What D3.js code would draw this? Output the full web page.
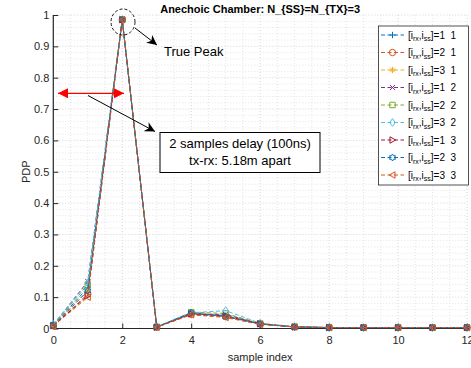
<!DOCTYPE html>
<html><head><meta charset="utf-8">
<script src="https://cdn.jsdelivr.net/npm/d3@7"></script>
<style>body{margin:0;background:#fff}svg{display:block;font-family:"Liberation Sans",Arial,sans-serif}</style>
</head><body><svg id="c" width="471" height="368"></svg>
<script>
const sampleIndex = [0,1,2,3,4,5,6,7,8,9,10,11,12];
const s11 = [0.010,0.130,0.985,0.005,0.048,0.040,0.015,0.005,0.003,0.003,0.003,0.003,0.003];
const s21 = [0.008,0.110,0.985,0.004,0.045,0.038,0.014,0.005,0.003,0.003,0.003,0.003,0.003];
const s31 = [0.010,0.120,0.987,0.005,0.050,0.042,0.016,0.005,0.003,0.003,0.003,0.003,0.003];
const s12 = [0.012,0.150,0.985,0.005,0.046,0.045,0.015,0.005,0.003,0.003,0.003,0.003,0.003];
const s22 = [0.011,0.140,0.985,0.005,0.052,0.048,0.016,0.005,0.003,0.003,0.003,0.003,0.003];
const s32 = [0.013,0.145,0.983,0.006,0.050,0.057,0.017,0.006,0.003,0.003,0.003,0.003,0.003];
const s13 = [0.009,0.105,0.985,0.004,0.047,0.040,0.015,0.005,0.003,0.003,0.003,0.003,0.003];
const s23 = [0.010,0.120,0.985,0.005,0.050,0.038,0.014,0.005,0.003,0.003,0.003,0.003,0.003];
const s33 = [0.008,0.100,0.985,0.004,0.044,0.035,0.013,0.005,0.003,0.003,0.003,0.003,0.003];
const seriesValues = [s11,s21,s31,s12,s22,s32,s13,s23,s33];
const legendRx = ["1","2","3","1","2","3","1","2","3"];
const legendSs = ["1","1","1","2","2","2","3","3","3"];
const colors = ["#0072BD","#D95319","#EDB120","#7E2F8E","#77AC30","#4DBEEE","#A2142F","#0072BD","#D95319"];
const markers = ["plus","circle","star","x","square","diamond","tright","hex","tleft"];
const xTicks = [0,2,4,6,8,10,12];
const yTicks = [0,0.1,0.2,0.3,0.4,0.5,0.6,0.7,0.8,0.9,1];
const yTickLabels = ["0","0.1","0.2","0.3","0.4","0.5","0.6","0.7","0.8","0.9","1"];

const svg = d3.select("#c");
const L=53.3, R=467, T=15, B=328.5;
const x = d3.scaleLinear().domain([0,12]).range([L,R]);
const y = d3.scaleLinear().domain([0,1]).range([B,T]);

// grid
const g = svg.append("g");
d3.range(0,12.01,0.5).forEach(v=>{
  const major = Math.abs(v%2)<1e-9;
  g.append("line").attr("x1",x(v)).attr("x2",x(v)).attr("y1",T).attr("y2",B)
   .attr("stroke",major?"#d4d4d4":"#e4e4e4").attr("stroke-width",1).attr("stroke-dasharray","1,2");
});
d3.range(0,1.001,0.02).forEach(v=>{
  const major = Math.abs(Math.round(v*50)%5)===0;
  g.append("line").attr("x1",L).attr("x2",R).attr("y1",y(v)).attr("y2",y(v))
   .attr("stroke",major?"#d4d4d4":"#e4e4e4").attr("stroke-width",1).attr("stroke-dasharray","1,2");
});

// axes
const ax = svg.append("g").attr("transform",`translate(0,${B})`)
  .call(d3.axisBottom(x).tickValues(xTicks).tickSize(-5).tickPadding(8).tickFormat(d3.format("d")));
const ay = svg.append("g").attr("transform",`translate(${L},0)`)
  .call(d3.axisLeft(y).tickValues(yTicks).tickSize(-5).tickPadding(4).tickFormat((d,i)=>yTickLabels[i]));
[ax,ay].forEach(a=>{
  a.select(".domain").attr("stroke","#262626").attr("stroke-width",1.2);
  a.selectAll(".tick line").attr("stroke","#262626");
  a.selectAll("text").attr("fill","#262626").attr("font-size",11).attr("font-family","Liberation Sans, Arial, sans-serif");
});
ax.select(".domain").attr("d",`M${L},0H${R}`);
ay.select(".domain").attr("d",`M0,${B}V${T}`);

function markerPath(type){
  const p = d3.path();
  const r=3.2;
  switch(type){
    case "plus": p.moveTo(-r,0);p.lineTo(r,0);p.moveTo(0,-r);p.lineTo(0,r);break;
    case "circle": p.moveTo(r,0);p.arc(0,0,r,0,2*Math.PI);break;
    case "star": p.moveTo(-r,0);p.lineTo(r,0);p.moveTo(0,-r);p.lineTo(0,r);
      p.moveTo(-r*0.7,-r*0.7);p.lineTo(r*0.7,r*0.7);p.moveTo(-r*0.7,r*0.7);p.lineTo(r*0.7,-r*0.7);break;
    case "x": p.moveTo(-r*0.8,-r*0.8);p.lineTo(r*0.8,r*0.8);p.moveTo(-r*0.8,r*0.8);p.lineTo(r*0.8,-r*0.8);break;
    case "square": p.rect(-r*0.85,-r*0.85,r*1.7,r*1.7);break;
    case "diamond": p.moveTo(0,-r*1.2);p.lineTo(r*0.9,0);p.lineTo(0,r*1.2);p.lineTo(-r*0.9,0);p.closePath();break;
    case "tright": p.moveTo(r,0);p.lineTo(-r*0.8,-r);p.lineTo(-r*0.8,r);p.closePath();break;
    case "tleft": p.moveTo(-r,0);p.lineTo(r*0.8,-r);p.lineTo(r*0.8,r);p.closePath();break;
    case "hex": {
      const ro=r*1.1, ri=ro*0.58;
      for(let k=0;k<12;k++){const a=-Math.PI/2+k*Math.PI/6;const rr=k%2?ri:ro;
        const px=rr*Math.cos(a),py=rr*Math.sin(a); if(k===0)p.moveTo(px,py);else p.lineTo(px,py);}
      p.closePath();break;}
  }
  return p.toString();
}

const line = d3.line().x((d,i)=>x(sampleIndex[i])).y(d=>y(d));
seriesValues.forEach((vals,si)=>{
  const sg = svg.append("g");
  sg.append("path").attr("d",line(vals)).attr("fill","none").attr("stroke",colors[si])
    .attr("stroke-width",1).attr("stroke-dasharray","4,2.5");
  sg.selectAll("path.m").data(vals).enter().append("path").attr("class","m")
    .attr("transform",(d,i)=>`translate(${x(sampleIndex[i])},${y(d)})`)
    .attr("d",markerPath(markers[si])).attr("fill","none").attr("stroke",colors[si]).attr("stroke-width",1);
});

// title and labels
svg.append("text").attr("x",(L+R)/2).attr("y",13).attr("text-anchor","middle")
  .attr("font-size",11).attr("font-weight","bold").attr("fill","#000").text("Anechoic Chamber: N_{SS}=N_{TX}=3");
svg.append("text").attr("x",(L+R)/2).attr("y",361).attr("text-anchor","middle")
  .attr("font-size",11).attr("fill","#262626").text("sample index");
svg.append("text").attr("transform",`translate(30,${(T+B)/2}) rotate(-90)`).attr("text-anchor","middle")
  .attr("font-size",11).attr("fill","#262626").text("PDP");

// annotations
const defs = svg.append("defs");
defs.append("marker").attr("id","ah").attr("viewBox","0 0 10 10").attr("refX",10).attr("refY",5)
  .attr("markerWidth",10).attr("markerHeight",10).attr("markerUnits","userSpaceOnUse").attr("orient","auto")
  .append("path").attr("d","M0,0L10,5L0,10L3,5Z").attr("fill","#000");
defs.append("marker").attr("id","ahr").attr("viewBox","0 0 10 10").attr("refX",10).attr("refY",5)
  .attr("markerWidth",14).attr("markerHeight",10).attr("markerUnits","userSpaceOnUse").attr("orient","auto-start-reverse")
  .append("path").attr("d","M0,0L10,5L0,10Z").attr("fill","#ff0000");

svg.append("ellipse").attr("cx",123).attr("cy",22).attr("rx",12).attr("ry",13)
  .attr("fill","none").attr("stroke","#000").attr("stroke-width",0.9).attr("stroke-dasharray","3,2");
svg.append("line").attr("x1",135).attr("y1",28).attr("x2",157).attr("y2",45)
  .attr("stroke","#000").attr("stroke-width",1).attr("marker-end","url(#ah)");
svg.append("text").attr("x",164).attr("y",56).attr("font-size",13).attr("fill","#000").text("True Peak");

svg.append("line").attr("x1",58).attr("y1",93.3).attr("x2",124).attr("y2",93.3)
  .attr("stroke","#ff0000").attr("stroke-width",1.3)
  .attr("marker-start","url(#ahr)").attr("marker-end","url(#ahr)");
svg.append("line").attr("x1",88).attr("y1",95.5).attr("x2",155).attr("y2",131.5)
  .attr("stroke","#000").attr("stroke-width",1).attr("marker-end","url(#ah)");
svg.append("rect").attr("x",160).attr("y",132.5).attr("width",160).attr("height",40)
  .attr("fill","#fff").attr("stroke","#000").attr("stroke-width",1);
svg.append("text").attr("x",240).attr("y",148).attr("text-anchor","middle").attr("font-size",13).text("2 samples delay (100ns)");
svg.append("text").attr("x",240).attr("y",165).attr("text-anchor","middle").attr("font-size",13).text("tx-rx: 5.18m apart");

// legend
const lg = svg.append("g");
lg.append("rect").attr("x",378.5).attr("y",26).attr("width",90).attr("height",159)
  .attr("fill","#fff").attr("stroke","#262626").attr("stroke-width",0.8);
seriesValues.forEach((vals,si)=>{
  const yy = 35 + si*17.5;
  lg.append("line").attr("x1",381).attr("x2",404).attr("y1",yy).attr("y2",yy)
    .attr("stroke",colors[si]).attr("stroke-width",1).attr("stroke-dasharray","4,2.5");
  lg.append("path").attr("transform",`translate(392.5,${yy})`).attr("d",markerPath(markers[si]))
    .attr("fill","none").attr("stroke",colors[si]).attr("stroke-width",1);
  const t = lg.append("text").attr("x",408).attr("y",yy+3.5).attr("font-size",10).attr("fill","#000");
  t.append("tspan").text("[i");
  t.append("tspan").attr("font-size",7).attr("dy",2.5).text("rx");
  t.append("tspan").attr("dy",-2.5).text(",i");
  t.append("tspan").attr("font-size",7).attr("dy",2.5).text("ss");
  t.append("tspan").attr("dy",-2.5).text("]=" + legendRx[si] + "\u00a0\u00a0" + legendSs[si]);
});
</script></body></html>
